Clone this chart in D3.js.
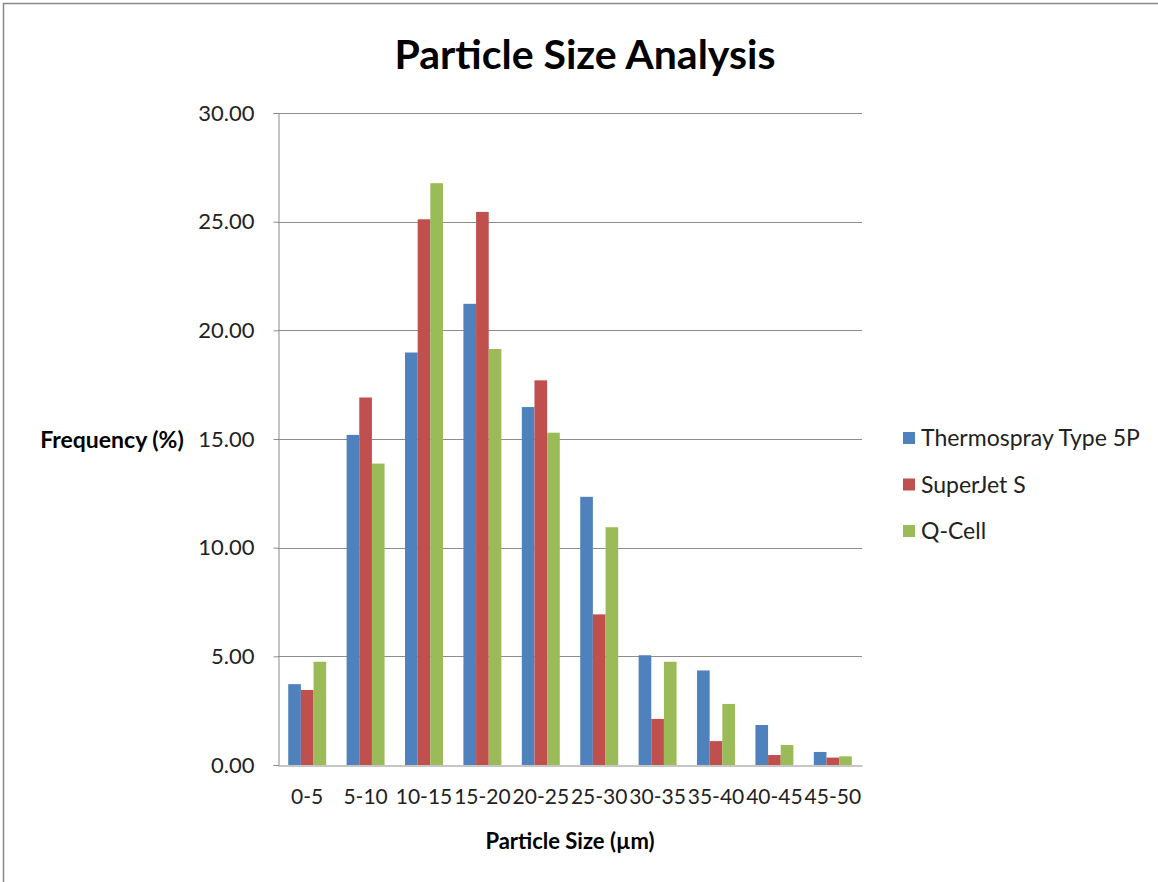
<!DOCTYPE html>
<html>
<head>
<meta charset="utf-8">
<script src="https://cdn.jsdelivr.net/npm/d3@7"></script>
<style>
  html, body { margin: 0; padding: 0; background: #fff; }
  svg { display: block; font-family: Lato, "Open Sans", sans-serif; }
</style>
</head>
<body>
<svg id="chart" width="1158" height="882"></svg>
<script>
// Size bins (µm)
const categories = ["0-5", "5-10", "10-15", "15-20", "20-25", "25-30", "30-35", "35-40", "40-45", "45-50"];
const seriesNames = ["Thermospray Type 5P", "SuperJet S", "Q-Cell"];
const thermospray = [3.72, 15.19, 18.98, 21.22, 16.47, 12.34, 5.05, 4.35, 1.84, 0.60];
const superjet    = [3.45, 16.91, 25.11, 25.45, 17.70, 6.93, 2.12, 1.10, 0.46, 0.34];
const qcell       = [4.75, 13.87, 26.77, 19.14, 15.29, 10.94, 4.75, 2.81, 0.92, 0.40];
const yTicks = [0, 5, 10, 15, 20, 25, 30];
const colors = ["#4F81BD", "#C0504D", "#9BBB59"];

const seriesValues = [thermospray, superjet, qcell];
const rows = categories.map((c, i) => ({
  cat: c,
  vals: seriesNames.map((s, j) => ({ key: s, value: seriesValues[j][i] }))
}));

const svg = d3.select("#chart");
const plot = { left: 278, right: 862, top: 113, bottom: 765 };
const font = "Lato, 'Open Sans', sans-serif";

// outer chart frame
svg.append("rect")
  .attr("x", 3.5).attr("y", 3.5)
  .attr("width", 1160).attr("height", 880)
  .attr("fill", "none").attr("stroke", "#898989").attr("stroke-width", 1.5);

const x0 = d3.scaleBand().domain(categories).range([plot.left, plot.right]).paddingInner(0.35).paddingOuter(0.175);
const x1 = d3.scaleBand().domain(seriesNames).range([0, x0.bandwidth()]);
const y = d3.scaleLinear().domain([0, 30]).range([plot.bottom, plot.top]);

// gridlines
svg.append("g")
  .selectAll("line")
  .data(yTicks.filter(t => t > 0))
  .join("line")
  .attr("x1", plot.left).attr("x2", plot.right)
  .attr("y1", d => Math.round(y(d)) + 0.5).attr("y2", d => Math.round(y(d)) + 0.5)
  .attr("stroke", "#8c8c8c").attr("stroke-width", 1);

// bars
const groups = svg.append("g")
  .selectAll("g")
  .data(rows)
  .join("g")
  .attr("transform", d => `translate(${x0(d.cat)},0)`);

groups.selectAll("rect")
  .data(d => d.vals)
  .join("rect")
  .attr("x", d => x1(d.key))
  .attr("width", x1.bandwidth())
  .attr("y", d => y(d.value))
  .attr("height", d => y(0) - y(d.value))
  .attr("fill", (d, i) => colors[i]);

// y axis
const yAxis = svg.append("g")
  .attr("transform", `translate(${plot.left + 0.5},0)`)
  .call(d3.axisLeft(y).tickValues(yTicks).tickFormat(d3.format(".2f")).tickSize(5).tickPadding(19));
yAxis.select(".domain").attr("stroke", "#8c8c8c");
yAxis.selectAll(".tick line").attr("stroke", "#8c8c8c");
yAxis.selectAll("text").attr("font-size", 22).attr("fill", "#222").attr("font-family", font);

// x axis
const xAxis = svg.append("g")
  .attr("transform", `translate(0,${plot.bottom + 0.5})`)
  .call(d3.axisBottom(x0).tickSize(0).tickPadding(24));
xAxis.select(".domain").attr("stroke", "#8c8c8c");
xAxis.selectAll("text").attr("font-size", 21).attr("fill", "#222").attr("font-family", font);

// title
svg.append("text")
  .attr("x", 585).attr("y", 69)
  .attr("text-anchor", "middle")
  .attr("font-size", 41).attr("font-weight", "bold").attr("fill", "#000")
  .text("Particle Size Analysis");

// axis titles
svg.append("text")
  .attr("x", 112).attr("y", 448)
  .attr("text-anchor", "middle")
  .attr("font-size", 23).attr("font-weight", "bold").attr("fill", "#000")
  .text("Frequency (%)");

svg.append("text")
  .attr("x", 570).attr("y", 849)
  .attr("text-anchor", "middle")
  .attr("font-size", 22).attr("font-weight", "bold").attr("fill", "#000")
  .text("Particle Size (µm)");

// legend
const legend = svg.append("g")
  .selectAll("g")
  .data(seriesNames)
  .join("g")
  .attr("transform", (d, i) => `translate(903,${432 + i * 46.5})`);
legend.append("rect")
  .attr("width", 12).attr("height", 12)
  .attr("fill", (d, i) => colors[i]);
legend.append("text")
  .attr("x", 18).attr("y", 14)
  .attr("font-size", 23).attr("fill", "#222")
  .text(d => d);
</script>
</body>
</html>
